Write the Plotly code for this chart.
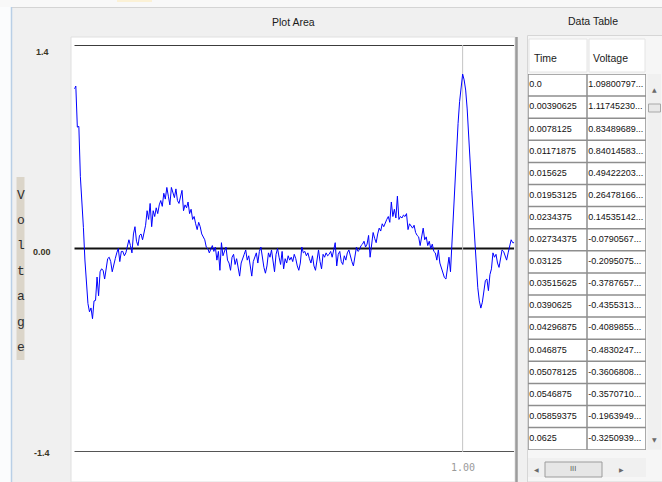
import plotly.graph_objects as go

W, H = 662, 482

# sampling interval of the recorded trace (s)
DT = 0.00390625

# recorded voltage samples
voltage = [
    1.09800797, 1.11745230, 0.83489689, 0.84014583, 0.49422203, 0.26478166,
    0.14535142, -0.0790567, -0.2095075, -0.3787657, -0.4355313, -0.4089855,
    -0.4830247, -0.3606808, -0.3570710, -0.1963949, -0.3250939,
    -0.16, -0.14, -0.15, -0.21, -0.12, -0.07, -0.06, -0.09, -0.16, -0.10,
    -0.07, -0.03, 0.00, -0.09, -0.02, -0.02, -0.05, -0.03, 0.03, 0.06,
    0.02, -0.03, 0.10, 0.15, 0.05, 0.02, 0.09, 0.10, 0.06, 0.11,
    0.16, 0.26, 0.20, 0.31, 0.15, 0.26, 0.22, 0.28, 0.24, 0.30,
    0.33, 0.29, 0.38, 0.34, 0.42, 0.36, 0.30, 0.42, 0.38, 0.35,
    0.41, 0.33, 0.31, 0.36, 0.40, 0.26, 0.30, 0.28, 0.32, 0.24,
    0.27, 0.20, 0.22, 0.17, 0.13, 0.18, 0.15, 0.10, 0.08, 0.06,
    0.01, 0.00, -0.03, -0.01, 0.02, -0.02, 0.01, -0.08, -0.02, -0.15,
    0.04, -0.05, -0.02, 0.01, -0.08, -0.10, -0.15, -0.06, -0.04, -0.11,
    -0.07, -0.14, -0.19, -0.10, -0.06, -0.04, -0.01, -0.08, -0.05, -0.12,
    -0.19, -0.09, -0.05, -0.03, -0.10, -0.02, 0.01, -0.08, -0.13, -0.17,
    -0.12, -0.03, -0.06, -0.01, -0.09, -0.16, -0.04, 0.00, -0.06, -0.11,
    -0.02, -0.14, -0.07, -0.10, -0.05, -0.08, -0.06, -0.09, -0.04, -0.07,
    -0.12, -0.15, -0.10, 0.01, -0.03, -0.02, -0.05, -0.03, -0.07, -0.10,
    -0.05, -0.12, -0.15, -0.06, -0.01, -0.09, -0.14, -0.04, -0.06, -0.03,
    -0.05, -0.04, -0.02, -0.06, -0.02, 0.04, -0.12, -0.04, -0.02, -0.09,
    -0.11, -0.05, -0.08, -0.03, -0.01, -0.06, -0.09, -0.12, -0.05, 0.01,
    -0.02, -0.01, 0.02, 0.03, 0.05, 0.01, 0.03, 0.09, -0.06, 0.05,
    0.11, 0.07, 0.04, 0.10, 0.14, 0.12, 0.17, 0.15, 0.18, 0.20,
    0.22, 0.18, 0.32, 0.22, 0.27, 0.21, 0.36, 0.20, 0.22, 0.21,
    0.23, 0.22, 0.24, 0.13, 0.17, 0.15, 0.14, 0.16, 0.11, 0.09,
    0.08, 0.02, 0.08, 0.14, 0.06, 0.08, 0.02, 0.05, 0.00, 0.03,
    -0.02, -0.03, -0.08, -0.01, -0.10, -0.13, -0.17, -0.20, -0.21, -0.12,
    -0.06, -0.16, 0.06, 0.24, 0.42, 0.63, 0.86, 1.01, 1.13, 1.20,
    1.16, 1.09, 0.96, 0.80, 0.58, 0.40, 0.23, 0.03, -0.13, -0.27,
    -0.36, -0.41, -0.37, -0.29, -0.22, -0.21, -0.29, -0.18, -0.14, -0.03,
    -0.06, -0.04, -0.10, -0.13, -0.06, -0.01, -0.02, -0.05, -0.08, -0.03,
    0.03, 0.06, 0.04, 0.04,
]
time = [k * DT for k in range(len(voltage))]

# axis annotation values
y_ticks = [1.4, 0.0, -1.4]
y_tick_text = ["1.4", "0.00", "-1.4"]
y_tick_shift = [-7, -3, -1]
x_marker = 1.0
x_marker_text = "1.00"
y_title = "Voltage"

# rows visible in the data table
N_ROWS = 17
col_titles = ["Time", "Voltage"]
time_cells = [str(t) for t in time[:N_ROWS]]
volt_cells = [f"{v:.10f}"[:10] + "..." for v in voltage[:N_ROWS]]

SANS = "Liberation Sans, Arial, sans-serif"
ROW_TOP, ROW_H = 74.0, 22.1


def px(x):
    return x / W


def py(y):
    return 1 - y / H


def rect(x0, y0, x1, y1, fill, line=None, lw=0):
    return dict(type="rect", xref="paper", yref="paper",
                x0=px(x0), x1=px(x1), y0=py(y0), y1=py(y1),
                fillcolor=fill, line=dict(color=line or fill, width=lw),
                layer="below")


def seg(x0, y0, x1, y1, color, lw):
    return dict(type="line", xref="paper", yref="paper",
                x0=px(x0), x1=px(x1), y0=py(y0), y1=py(y1),
                line=dict(color=color, width=lw), layer="below")


def label(text, x, y, size, color="#1a1a1a", family=SANS, xanchor="center"):
    return dict(text=text, x=px(x), y=py(y), xref="paper", yref="paper",
                xanchor=xanchor, yanchor="middle", showarrow=False,
                font=dict(family=family, size=size, color=color))


fig = go.Figure()

# signal trace
fig.add_trace(go.Scatter(
    x=time, y=voltage, mode="lines", line=dict(color="#0000ff", width=1),
    xaxis="x", yaxis="y", hoverinfo="skip", showlegend=False))

# table contents
rows = list(range(N_ROWS))
cell_font = dict(family=SANS, size=9, color="#111111")
fig.add_trace(go.Scatter(
    x=[0.02] * N_ROWS, y=rows, mode="text", text=time_cells,
    textposition="middle right", textfont=cell_font,
    xaxis="x2", yaxis="y2", hoverinfo="skip", showlegend=False))
fig.add_trace(go.Scatter(
    x=[1.02] * N_ROWS, y=rows, mode="text", text=volt_cells,
    textposition="middle right", textfont=cell_font,
    xaxis="x2", yaxis="y2", hoverinfo="skip", showlegend=False))

t_end = time[-1]
table_bottom = ROW_TOP + N_ROWS * ROW_H
shapes = [
    # window chrome
    rect(0, 0, 11, 482, "#fbfcfd"),
    rect(0, 0, 662, 7, "#f8f8f8"),
    rect(117, 0, 152, 2, "#fbf1d6"),
    seg(11, 7.5, 662, 7.5, "#d4d4d4", 1),
    seg(11.5, 7, 11.5, 482, "#b9cfe6", 1.5),
    # plot panel
    rect(71, 37, 515, 482, "#ffffff", "#e0e0e0", 1),
    seg(516.5, 37, 516.5, 482, "#9c9c9c", 2.5),
    # axis title strip
    rect(16.5, 177, 24.5, 360, "#dbd5c9"),
    # table panel
    rect(527.5, 35.5, 663, 482, "#f6f6f6", "#d6d6d6", 1),
    rect(529, 39, 587, 72, "#ffffff", "#e4e4e4", 1),
    rect(589, 39, 645, 72, "#ffffff", "#e4e4e4", 1),
    # vertical scrollbar
    rect(647.5, ROW_TOP, 661, table_bottom, "#f0f0f0"),
    rect(648.5, 104, 660.5, 112, "#e8e8e8", "#a8a8a8", 1),
    # horizontal scrollbar
    rect(528, 458, 646, 477, "#f0f0f0"),
    rect(545, 462, 602, 477, "#e6e6e6", "#9c9c9c", 1),
]

# reference lines in data space
for yv, col in zip(y_ticks, ["#3c3c3c", "#111111", "#555555"]):
    shapes.append(dict(type="line", xref="x", yref="y", x0=0, x1=t_end,
                       y0=yv, y1=yv, line=dict(color=col, width=2),
                       layer="below"))
shapes.append(dict(type="line", xref="x", yref="y", x0=x_marker, x1=x_marker,
                   y0=y_ticks[0], y1=-1.44, line=dict(color="#c4c4c4", width=1),
                   layer="below"))

# table cells and grid
shapes.append(dict(type="rect", xref="x2", yref="y2", x0=0, x1=2,
                   y0=-0.5, y1=N_ROWS - 0.5, fillcolor="#ffffff",
                   line=dict(width=0), layer="below"))
for k in range(N_ROWS + 1):
    shapes.append(dict(type="line", xref="x2", yref="y2", x0=0, x1=2,
                       y0=k - 0.5, y1=k - 0.5,
                       line=dict(color="#8e8e8e", width=1.5), layer="below"))
for c in range(3):
    shapes.append(dict(type="line", xref="x2", yref="y2", x0=c, x1=c,
                       y0=-0.5, y1=N_ROWS - 0.5,
                       line=dict(color="#8e8e8e", width=1.5), layer="below"))

annotations = [
    label("Plot Area", 293, 22, 10.5),
    label("Data Table", 593, 21, 10.5),
    label(col_titles[0], 532, 58, 10.5, xanchor="left"),
    label(col_titles[1], 591, 58, 10.5, xanchor="left"),
    label("\u25b2", 654, 89, 6, color="#6a6a6a", family="DejaVu Sans"),
    label("\u25bc", 654, 439, 6, color="#6a6a6a", family="DejaVu Sans"),
    label("\u25c0", 536, 469, 6, color="#6a6a6a", family="DejaVu Sans"),
    label("\u25b6", 621, 469, 6, color="#6a6a6a", family="DejaVu Sans"),
    label("III", 573, 469, 7, color="#555555", family="DejaVu Sans"),
]

# y tick labels placed on the value axis
for yv, txt, sh in zip(y_ticks, y_tick_text, y_tick_shift):
    annotations.append(dict(text="<b>" + txt + "</b>", xref="paper", x=px(42),
                            yref="y", y=yv, yshift=sh, showarrow=False,
                            xanchor="center", yanchor="middle",
                            font=dict(family=SANS, size=9, color="#3a3424")))

# time marker label
annotations.append(dict(text=x_marker_text, xref="x", x=x_marker, yref="paper",
                        y=py(467), showarrow=False, xanchor="center",
                        yanchor="middle",
                        font=dict(family="DejaVu Sans Mono", size=10,
                                  color="#9a9a9a")))

# vertical axis title, one letter per line
for i, ch in enumerate(y_title):
    annotations.append(label(ch, 20.7, 195 + i * 25.4, 13, color="#2e2e2e",
                             family="Liberation Mono, DejaVu Sans Mono, monospace"))

fig.update_layout(
    width=W, height=H, autosize=False,
    margin=dict(l=0, r=0, t=0, b=0),
    paper_bgcolor="#f0f0f0", plot_bgcolor="rgba(0,0,0,0)",
    showlegend=False,
    xaxis=dict(domain=[px(74.3), px(514.2)], range=[0, t_end], visible=False,
               anchor="y", fixedrange=True),
    yaxis=dict(domain=[py(452), py(45)], range=[-1.4, 1.4], visible=False,
               anchor="x", fixedrange=True),
    xaxis2=dict(domain=[px(528), px(646)], range=[0, 2], visible=False,
                anchor="y2", fixedrange=True),
    yaxis2=dict(domain=[py(table_bottom), py(ROW_TOP)],
                range=[N_ROWS - 0.5, -0.5], visible=False, anchor="x2",
                fixedrange=True),
    shapes=shapes,
    annotations=annotations,
)

fig.write_html("out.html")
